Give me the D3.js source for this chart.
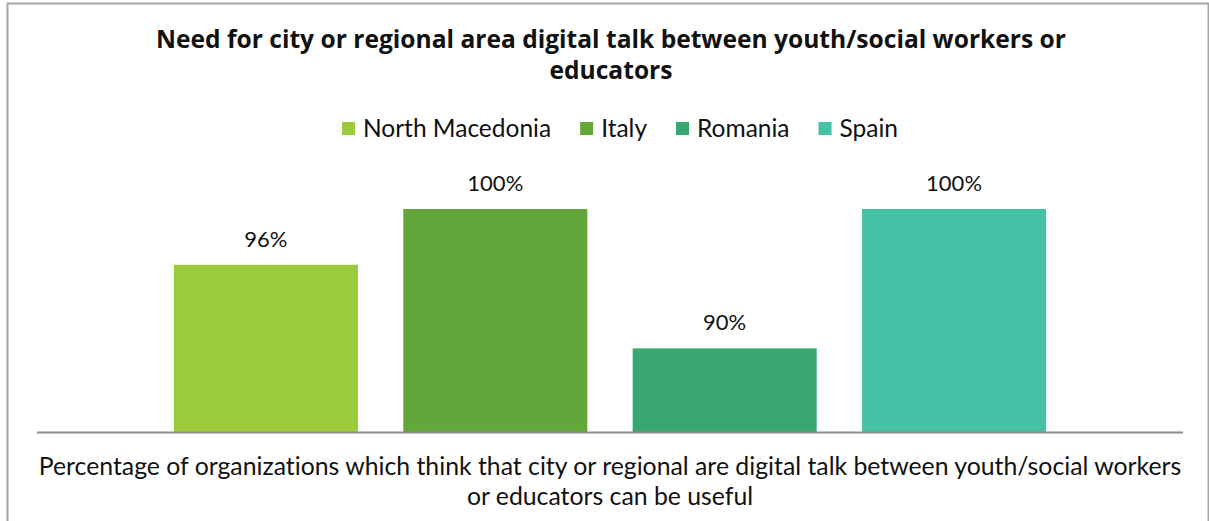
<!DOCTYPE html>
<html>
<head>
<meta charset="utf-8">
<script src="https://cdn.jsdelivr.net/npm/d3@7"></script>
<style>
  html, body { margin: 0; padding: 0; background: #fff; }
  svg { display: block; }
  text { font-family: Lato, "Open Sans", sans-serif; fill: #111; font-variant-ligatures: none; }
</style>
</head>
<body>
<svg id="chart" width="1209" height="521"></svg>
<script>
// Chart content
const titleLines = ["Need for city or regional area digital talk between youth/social workers or", "educators"];
const categories = ["Percentage of organizations which think that city or regional are digital talk between youth/social workers|or educators can be useful"];
const seriesNames = ["North Macedonia", "Italy", "Romania", "Spain"];
const seriesValues = [96, 100, 90, 100];
const seriesColors = ["#9bcb3b", "#63a639", "#38a870", "#45c1a5"];
const valueFormat = v => v + "%";

const W = 1209, H = 521;
const plot = { left: 37, right: 1183, top: 209, bottom: 432 };

const svg = d3.select("#chart");

svg.append("rect").attr("width", W).attr("height", H).attr("fill", "#fff");

// chart frame
svg.append("rect")
  .attr("x", 7.5).attr("y", 3.5)
  .attr("width", 1201).attr("height", 540)
  .attr("fill", "none").attr("stroke", "#a6a6a6").attr("stroke-width", 2);

// title, sized so the first line spans the header width
const title = svg.append("text")
  .attr("text-anchor", "middle")
  .style("font-family", "'Open Sans', Lato, sans-serif")
  .style("font-weight", "bold").style("font-size", "22px");
titleLines.forEach((t, i) => {
  title.append("tspan").attr("x", 611).attr("y", 48 + i * 31).text(t);
});
{
  const first = title.select("tspan").node();
  const w = first.getComputedTextLength();
  title.style("font-size", (22 * 910 / w).toFixed(2) + "px");
}

// scales
const x0 = d3.scaleBand().domain(categories).range([plot.left, plot.right]).paddingInner(0).paddingOuter(0.157);
const x1 = d3.scaleBand().domain(seriesNames).range([0, x0.bandwidth()]).paddingInner(0.1977).paddingOuter(0);
const y = d3.scaleLinear().domain([84, 100]).range([plot.bottom, plot.top]);

// bars
const g = svg.append("g");
categories.forEach(cat => {
  const grp = g.append("g").attr("transform", `translate(${x0(cat)},0)`);
  grp.selectAll("rect").data(seriesNames).join("rect")
    .attr("x", d => x1(d))
    .attr("width", x1.bandwidth())
    .attr("y", (d, i) => y(seriesValues[i]))
    .attr("height", (d, i) => plot.bottom - y(seriesValues[i]))
    .attr("fill", (d, i) => seriesColors[i]);
  grp.selectAll("text.lbl").data(seriesNames).join("text")
    .attr("class", "lbl")
    .attr("x", d => x1(d) + x1.bandwidth() / 2)
    .attr("y", (d, i) => y(seriesValues[i]) - 18)
    .attr("text-anchor", "middle")
    .style("font-size", "22px")
    .text((d, i) => valueFormat(seriesValues[i]));
});

// category axis
const axis = svg.append("g")
  .attr("transform", `translate(0,${plot.bottom + 0.5})`)
  .call(d3.axisBottom(x0).tickSize(0).tickPadding(0));
axis.select(".domain").attr("stroke", "#8c8c8c").attr("stroke-width", 2)
  .attr("d", `M${plot.left},0H${plot.right}`);
axis.selectAll(".tick text").each(function(d) {
  const t = d3.select(this);
  const parts = d.split("|");
  t.text(null).attr("y", 0).attr("dy", null)
    .style("font-size", "24.8px").style("font-family", "Lato, sans-serif").attr("fill", "#111");
  parts.forEach((p, i) => t.append("tspan").attr("x", 0).attr("y", 42 + i * 30).text(p));
});

// legend
const legend = svg.append("g");
const items = legend.selectAll("g").data(seriesNames).join("g");
items.append("rect").attr("width", 13).attr("height", 13).attr("y", 122)
  .attr("fill", (d, i) => seriesColors[i]);
items.append("text").attr("x", 21).attr("y", 137).style("font-size", "24.5px").text(d => d);
let widths = [];
items.each(function() { widths.push(d3.select(this).select("text").node().getComputedTextLength() + 21); });
const gap = 29;
const total = d3.sum(widths) + gap * (widths.length - 1);
let cx = 620 - total / 2;
items.each(function(d, i) {
  d3.select(this).attr("transform", `translate(${cx},0)`);
  cx += widths[i] + gap;
});
</script>
</body>
</html>
